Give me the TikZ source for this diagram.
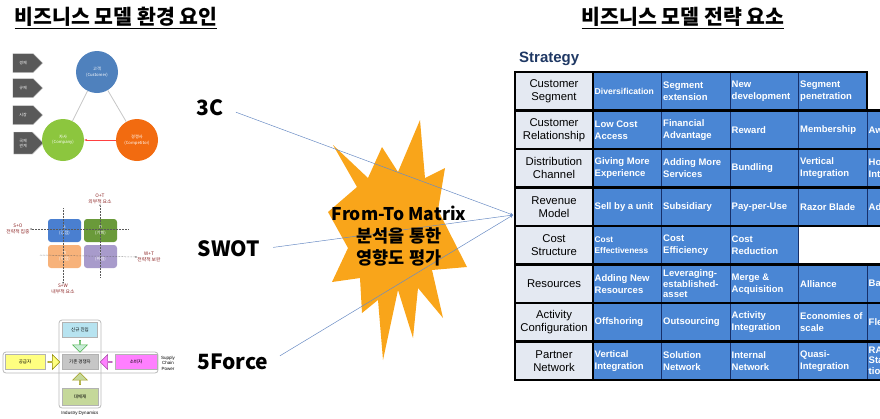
\documentclass[tikz,border=0pt]{standalone}
\usepackage{fontspec}
\setmainfont{Liberation Sans}
\newfontfamily\kr{Noto Sans CJK KR}
\usepackage{xcolor}
\usetikzlibrary{positioning,calc,shapes.symbols,shapes.arrows,arrows.meta}

\definecolor{cellblue}{HTML}{4A86D4}
\definecolor{headgray}{HTML}{E4E9F2}
\definecolor{gridnavy}{HTML}{17306A}
\definecolor{starorange}{HTML}{F9A51A}
\definecolor{linkblue}{HTML}{6A8CC4}
\definecolor{navy}{HTML}{1F3864}
\definecolor{cblue}{HTML}{4F81BD}
\definecolor{cgreen}{HTML}{8CC63E}
\definecolor{corange}{HTML}{F26B10}
\definecolor{swotred}{HTML}{8B2323}
\definecolor{sblue}{HTML}{4A7FD0}
\definecolor{sgreen}{HTML}{6A9A3A}
\definecolor{sorange}{HTML}{F7B27A}
\definecolor{spurple}{HTML}{A89BCB}
\definecolor{entryblue}{HTML}{B7E3F0}
\definecolor{entryarrow}{HTML}{C9EBD8}
\definecolor{supyel}{HTML}{FFFF80}
\definecolor{cusmag}{HTML}{FF7FFF}
\definecolor{subgrn}{HTML}{C5D89A}

\begin{document}
\begin{tikzpicture}[x=1pt, y=-1pt,
    title/.style={font=\kr\bfseries\fontsize{20.5}{22}\selectfont, inner sep=1pt},
    chev/.style={shape=signal, signal to=east, fill=gray!70!black, draw=gray!25, minimum width=30, minimum height=19, inner sep=0, text=white, font=\kr\fontsize{4}{5}\selectfont, align=center},
    circ/.style={circle, minimum size=42, inner sep=0, text=white, align=center, font=\kr\fontsize{4.2}{5.5}\selectfont},
    swot/.style={rectangle, rounded corners=3, minimum width=33, minimum height=23, inner sep=0, text=white, align=center, font=\kr\fontsize{4.2}{5.5}\selectfont},
    swotlbl/.style={text=swotred, align=center, inner sep=0, font=\kr\fontsize{4.8}{6}\selectfont},
    swotaxis/.style={densely dotted, gray!70!black, line width=0.5pt},
    fbox/.style={rectangle, draw=gray!60, minimum width=35, minimum height=15, inner sep=0, font=\kr\fontsize{4.5}{5.5}\selectfont},
    farrow/.style={single arrow, single arrow head extend=2.5pt, minimum height=12, minimum width=15, inner sep=0, line width=0.5pt},
    method/.style={font=\kr\bfseries\fontsize{21}{24}\selectfont, inner sep=1pt},
    link/.style={linkblue, line width=0.5pt, shorten <=12pt, -{Stealth[length=3pt,width=3pt]}},
    burst/.style={font=\kr\bfseries\fontsize{17.5}{22}\selectfont, align=center, inner sep=0},
    head/.style={font=\fontsize{11.3}{13}\selectfont, align=center, inner sep=0},
    cell/.style={anchor=west, text=white, align=left, inner sep=0, font=\bfseries\fontsize{9.5}{12}\selectfont},
    tabrule/.style={line width=2.2pt, line cap=rect}
]
\useasboundingbox (0,0) rectangle (880,418);

% headers
\node[title] (envhead) at (116,18) {\underline{비즈니스 모델 환경 요인}};
\node[title] (strhead) at (683,18) {\underline{비즈니스 모델 전략 요소}};

% 3C
\node[chev] (econ) at (23,63) {경제};
\node[chev] (regul) at (23,88) {규제};
\node[chev] (market) at (23,115) {시장};
\node[chev, minimum height=22] (intl) at (23,143) {국제\\관계};
\node[circ, fill=cblue] (cust) at (97,72) {고객\\(Customer)};
\node[circ, fill=cgreen] (comp) at (63,140) {자사\\(Company)};
\node[circ, fill=corange] (rival3c) at (137,140) {경쟁사\\(Competitor)};
\draw[gray!45, line width=0.8pt] (cust) -- (comp);
\draw[gray!45, line width=0.8pt] (cust) -- (rival3c);
\draw[red!75, line width=0.4pt, -{Stealth[length=3pt]}] (rival3c) -- (comp);

% SWOT
\node[swot, fill=sblue] (s) at (64.5,230.5) {S\\(강점)};
\node[swot, fill=sgreen] (o) at (100.5,230.5) {O\\(기회)};
\node[swot, fill=sorange] (w) at (64.5,256.5) {W\\(약점)};
\node[swot, fill=spurple] (t) at (100.5,256.5) {T\\(위협)};
\node[swotlbl] (ot) at (100,199) {O+T\\외부적 요소};
\node[swotlbl] (so) at (18,229) {S+O\\전략적 집중};
\node[swotlbl] (wt) at (149,257) {W+T\\전략적 보완};
\node[swotlbl] (sw) at (63,289) {S+W\\내부적 요소};
\draw[swotaxis, -{Stealth[length=2pt]}] (63,208) -- (sw.north);
\draw[swotaxis, -{Stealth[length=2pt]}] (100,277) -- (ot.south);
\draw[swotaxis, -{Stealth[length=2pt]}] (128,229) -- (so.east);
\draw[swotaxis, -{Stealth[length=2pt]}] (40,255) -- (wt.west);

% 5Force
\draw[gray!55, line width=0.8pt, rounded corners=3] (59,320) rectangle (101,408);
\draw[gray!55, line width=0.8pt, rounded corners=3] (3,352) rectangle (158,373);
\node[fbox, fill=entryblue] (newin) at (80,330) {신규 진입};
\node[fbox, fill=gray!45, minimum width=36] (exist) at (80,362) {기존 경쟁자};
\node[fbox, fill=supyel, minimum width=40] (supp) at (25,362) {공급자};
\node[fbox, fill=cusmag, minimum width=42] (buyer) at (136,362) {소비자};
\node[fbox, fill=subgrn, minimum width=36, minimum height=17] (subst) at (80,397) {대체재};
\node[farrow, fill=entryarrow, draw=gray!60!green, shape border rotate=270] at ($(newin.south)!0.5!(exist.north)$) {};
\node[farrow, fill=supyel, draw=olive] at ($(supp.east)!0.5!(exist.west)$) {};
\node[farrow, fill=cusmag, draw=violet!70, shape border rotate=180] at ($(buyer.west)!0.5!(exist.east)$) {};
\node[farrow, fill=subgrn, draw=olive!80, shape border rotate=90] at ($(subst.north)!0.5!(exist.south)$) {};
\node[font=\fontsize{4.5}{5}\selectfont, inner sep=0] (indyn) at (80,413) {Industry Dynamics};
\node[font=\fontsize{4.5}{5.5}\selectfont, align=center, inner sep=0] (scp) at (168,363) {Supply\\Chain\\Power};

% methods
\node[method] (c3) at (210,108) {3C};
\node[method] (swotlab) at (229,249) {SWOT};
\node[method] (five) at (233,362) {5Force};
\coordinate (hub) at (513,215);

% explosion
\fill[starorange] (333,145) -- (368,178) -- (382,147) -- (398,172) -- (420,120) -- (425,178)
  -- (445,168) -- (438,210) -- (467,267) -- (432,270) -- (443,318) -- (418,288) -- (413,338)
  -- (398,290) -- (383,360) -- (378,300) -- (362,313) -- (360,278) -- (332,282) -- (348,248)
  -- (328,212) -- (357,187) -- cycle;

\draw[link] (c3.east) -- (hub);
\draw[link] (swotlab.east) -- (hub);
\draw[link] (five.east) -- (hub);

\node[burst] (ftm) at (399,236) {From-To Matrix\\분석을 통한\\영향도 평가};

% strategy table
\node[anchor=west, text=navy, inner sep=0, font=\bfseries\fontsize{15}{17}\selectfont] (strat) at (519,59) {Strategy};
\fill[headgray] (515,72) rectangle (593,380);
\fill[cellblue] (593,72) rectangle (867,110.5);
\fill[cellblue] (593,110.5) rectangle (880,226);
\fill[cellblue] (593,226) rectangle (798.5,264.5);
\fill[cellblue] (593,264.5) rectangle (880,380);
\draw[gridnavy, line width=0.6pt] (661.5,72) -- (661.5,380) (730,72) -- (730,380) (798.5,72) -- (798.5,380)
  (867,110.5) -- (867,226) (867,264.5) -- (867,380);
\foreach \row in {1,...,7}
  \draw[tabrule] (515,{72+38.5*\row}) -- (880,{72+38.5*\row});
\draw[tabrule] (867,110.5) -- (867,72) -- (515,72) -- (515,380) -- (880,380);
\draw[tabrule] (593,72) -- (593,380);

\foreach \row/\txt in {0/{Customer\\Segment}, 1/{Customer\\Relationship}, 2/{Distribution\\Channel},
    3/{Revenue\\Model}, 4/{Cost\\Structure}, 5/Resources, 6/{Activity\\Configuration}, 7/{Partner\\Network}}
  \node[head] (h\row) at (554,{91.25+38.5*\row}) {\txt};

\foreach \row/\col/\txt in {0/2/{Segment\\extension}, 0/3/{New\\development}, 0/4/{Segment\\penetration},
    1/1/{Low Cost\\Access}, 1/2/{Financial\\Advantage}, 1/3/Reward, 1/4/Membership, 1/5/Aw,
    2/1/{Giving More\\Experience}, 2/2/{Adding More\\Services}, 2/3/Bundling, 2/4/{Vertical\\Integration}, 2/5/{Ho\\Int},
    3/1/Sell by a unit, 3/2/Subsidiary, 3/3/Pay-per-Use, 3/4/Razor Blade, 3/5/Ad,
    4/2/{Cost\\Efficiency}, 4/3/{Cost\\Reduction},
    5/1/{Adding New\\Resources}, 5/3/{Merge \&\\Acquisition}, 5/4/Alliance, 5/5/Ba,
    6/1/Offshoring, 6/2/Outsourcing, 6/3/{Activity\\Integration}, 6/4/{Economies of\\scale}, 6/5/Fle,
    7/1/{Vertical\\Integration}, 7/2/{Solution\\Network}, 7/3/{Internal\\Network}, 7/4/{Quasi-\\Integration}}
  \node[cell] (c\row-\col) at ({594.5+68.5*(\col-1)},{91.25+38.5*\row}) {\txt};

\node[cell, font=\bfseries\fontsize{8.6}{9}\selectfont] (c0-1) at (594.5,91.25) {Diversification};
\node[cell, font=\bfseries\fontsize{8.3}{11.5}\selectfont] (c4-1) at (594.5,245) {Cost\\Effectiveness};
\node[cell, font=\bfseries\fontsize{9.5}{10.5}\selectfont] (c5-2) at (663,283.75) {Leveraging-\\established-\\asset};
\node[cell, font=\bfseries\fontsize{9.5}{10.5}\selectfont] (c7-5) at (868.5,360.75) {RA\\Sta\\tio};
\end{tikzpicture}
\end{document}
